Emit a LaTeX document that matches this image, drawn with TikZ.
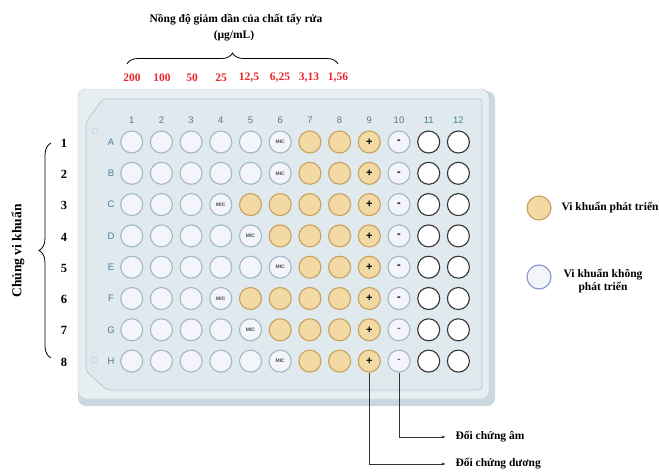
\documentclass[tikz,border=0pt]{standalone}
\usepackage{fontspec}
\setmainfont{Liberation Serif}
\newfontfamily\platefont{Liberation Sans}
\usepackage{xcolor}
\usetikzlibrary{arrows.meta}
\usetikzlibrary{decorations.pathreplacing}

\definecolor{plateside}{HTML}{CCD8DF}
\definecolor{platetop}{HTML}{E6EEF2}
\definecolor{plateedge}{HTML}{B7C9D2}
\definecolor{panelfill}{HTML}{DFE9EE}
\definecolor{platetxt}{HTML}{4D7D99}
\definecolor{wellfill}{HTML}{F3F5FA}
\definecolor{wellrim}{HTML}{A3B7C7}
\definecolor{growfill}{HTML}{F3D9A3}
\definecolor{growrim}{HTML}{C8A15C}
\definecolor{concred}{HTML}{E8262B}

\begin{document}
\begin{tikzpicture}[x=1pt,y=-1pt,
  wellempty/.style={circle,minimum size=22pt,inner sep=0pt,line width=1.1pt,
    draw=wellrim,fill=wellfill,text=black!70,
    font=\platefont\fontsize{5}{5}\selectfont\bfseries},
  wellgrow/.style={wellempty,draw=growrim,fill=growfill},
  wellpos/.style={wellgrow,text=black,font=\platefont\fontsize{11}{11}\selectfont\bfseries},
  wellneg/.style={wellempty,text=black,font=\platefont\fontsize{11}{11}\selectfont\bfseries},
  wellnegfaint/.style={wellempty,text=black!60,font=\platefont\fontsize{10}{10}\selectfont\bfseries},
  wellblank/.style={wellempty,draw=black!80,fill=white},
  plabel/.style={text=platetxt,font=\platefont\fontsize{9.5}{10}\selectfont},
  boldtxt/.style={font=\fontsize{11.5}{13.5}\selectfont\bfseries},
  conn/.style={draw=black!80,line width=0.8pt,
    -{Latex[length=4pt,width=3pt]},shorten >=6pt}]
\useasboundingbox (0,0) rectangle (659,472);
%
% plate body
\fill[plateside,rounded corners=8] (78,91) rectangle (495,406);
\filldraw[fill=platetop,draw=plateedge,rounded corners=8] (78,89) rectangle (489,399);
\filldraw[fill=panelfill,draw=plateedge,line width=0.8pt,rounded corners=3]
  (86,122) -- (103,99) -- (482,99) -- (482,390) -- (107,390) -- (86,371) -- cycle;
\draw[plateedge] (95,131) circle (3);
\draw[plateedge] (94,360) circle (3);
%
% column numbers and row letters
\foreach \c in {1,...,12}
  \node[plabel] (col-\c) at ({131.7+29.7*(\c-1)},120) {\c};
%
% wells, one row per strain: \m is the MIC column
\foreach \r/\m [count=\i] in {A/6,B/6,C/4,D/5,E/6,F/4,G/5,H/6}{
  \node[plabel] (row-\r) at (111,{142+31.3*(\i-1)}) {\r};
  \node[boldtxt,font=\fontsize{12.5}{14}\selectfont\bfseries] (s-\i) at (64,{143+31.3*(\i-1)}) {\i};
  \foreach \c in {1,...,12}{
    \def\wst{wellempty}\def\wtx{}
    \ifnum\c=\m \def\wtx{MIC}\fi
    \ifnum\c>\m \def\wst{wellgrow}\fi
    \ifnum\c=9 \def\wst{wellpos}\def\wtx{+}\fi
    \ifnum\c=10 \def\wst{wellneg}\def\wtx{-}\fi
    \ifnum\c>10 \def\wst{wellblank}\fi
    \ifnum\i>6 \ifnum\c=10 \def\wst{wellnegfaint}\fi\fi
    \node[\wst] (w-\r-\c) at ({131.7+29.7*(\c-1)},{142+31.3*(\i-1)}) {\wtx};
  }
}
%
% concentrations
\node[boldtxt] (title) at (236,20) {Nồng độ giảm dần của chất tẩy rửa};
\node[boldtxt] (unit) at (234,36) {(µg/mL)};
\draw[decorate,decoration={brace,amplitude=11pt},line width=0.8pt] (127,64) -- (338,64);
\foreach \v/\x in {200/132,100/162,50/192,25/221,{12,5}/249,{6,25}/280,{3,13}/309,{1,56}/338}
  \node[boldtxt,text=concred] (conc-\x) at (\x,78) {\v};
%
% strains
\draw[decorate,decoration={brace,amplitude=12pt},line width=0.8pt] (51,358) -- (51,143);
\node[rotate=90,font=\fontsize{13.5}{15}\selectfont\bfseries] (strain) at (18,251) {Chủng vi khuẩn};
%
% legend
\node[wellgrow,minimum size=24pt] (leg-grow) at (539,208) {};
\node[boldtxt,anchor=west] (leg-grow-txt) at (558,208) {Vi khuẩn phát triển};
\node[wellempty,minimum size=24pt,draw=wellrim!80!blue] (leg-none) at (539,277) {};
\node[boldtxt,align=center] (leg-none-txt) at (603,281) {Vi khuẩn không\\phát triển};
%
% controls
\node[boldtxt,anchor=west] (ctrl-neg) at (452,437) {Đối chứng âm};
\node[boldtxt,anchor=west] (ctrl-pos) at (452,464) {Đối chứng dương};
\draw[conn] (w-H-10.south) |- (ctrl-neg.west);
\draw[conn] (w-H-9.south) |- (ctrl-pos.west);
\end{tikzpicture}
\end{document}
